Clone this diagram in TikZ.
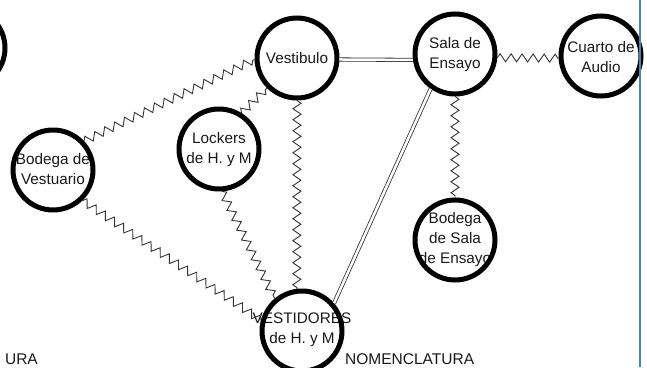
\documentclass[tikz,border=0pt]{standalone}
\usepackage{fontspec}
\setmainfont{Liberation Sans}
\usetikzlibrary{decorations.pathmorphing}
\definecolor{pageblue}{RGB}{79,129,189}
\begin{document}
\begin{tikzpicture}[x=1pt,y=-1pt,
  room/.style={circle,draw=black,line width=5pt,minimum size=80pt,inner sep=0pt},
  lbl/.style={align=center,inner sep=0pt,text=black!90,font=\fontsize{15.3}{20}\selectfont},
  zz/.style={draw=black!80,line width=0.9pt,decorate,decoration={zigzag,segment length=11pt,amplitude=4pt}},
  dbl/.style={draw=black!80,double=white,double distance=2.5pt,line width=0.8pt},
  bigtext/.style={inner sep=0pt,text=black!90,font=\fontsize{15.5}{18}\selectfont}]
\useasboundingbox (0,0) rectangle (647,367);
\clip (0,0) rectangle (647,367);
% labels first, circles on top
\node[lbl] (tvest) at (297,58) {Vestibulo};
\node[lbl] (tsala) at (455,55) {Sala de\\Ensayo};
\node[lbl] (taudio) at (601,57) {Cuarto de\\Audio};
\node[lbl] (tlock) at (219,150) {Lockers\\de H. y M};
\node[lbl] (tbvest) at (53,169) {Bodega de\\Vestuario};
\node[lbl] (tbsala) at (455,240) {Bodega\\de Sala\\de Ensayo};
\node[lbl] (tvstd) at (302,330) {VESTIDORES\\de H. y M};
\node[room] (left) at (-35,48) {};
\node[room] (vest) at (tvest) {};
\node[room] (sala) at (455,54) {};
\node[room] (audio) at (601,56) {};
\node[room] (lock) at (219,149) {};
\node[room] (bvest) at (53,170) {};
\node[room] (bsala) at (tbsala) {};
\node[room] (vstd) at (302,331) {};
% connectors
\draw[dbl] (vest.-2) -- (sala.188);
\draw[dbl] (sala.-125) -- (vstd.41);
\draw[zz] (sala.-5) -- (audio.183);
\draw[zz] (sala.-90) -- (bsala.90);
\draw[zz] (bvest.43) -- (vest.182);
\draw[zz] (lock.58) -- (vest.225);
\draw[zz] (vest.-90) -- (vstd.97);
\draw[zz] (lock.-86) -- (vstd.130);
\draw[zz] (bvest.-46) -- (vstd.165);
% page edge and headings at the lower edge
\draw[pageblue,line width=1.5pt] (640,0) -- (640,367);
\node[bigtext,anchor=base west] (nom) at (345,364.5) {NOMENCLATURA};
\node[bigtext,anchor=base east] (ura) at (38,364.5) {URA};
\end{tikzpicture}
\end{document}
